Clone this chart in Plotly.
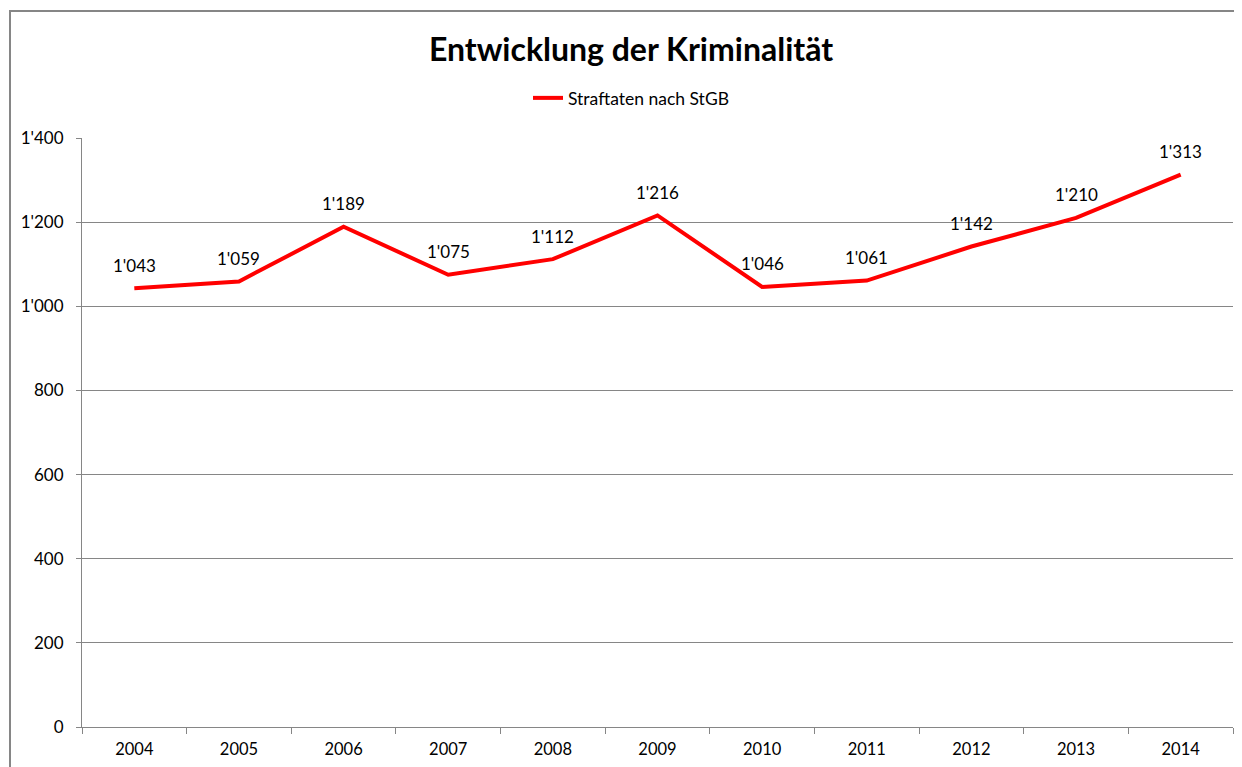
import plotly.graph_objects as go

years = ["2004", "2005", "2006", "2007", "2008", "2009", "2010", "2011", "2012", "2013", "2014"]
straftaten = [1043, 1059, 1189, 1075, 1112, 1216, 1046, 1061, 1142, 1210, 1313]
y_ticks = [0, 200, 400, 600, 800, 1000, 1200, 1400]

def fmt(v):
    return f"{v:,}".replace(",", "'")

FONT = "Lato"
GRID = "#868686"
OFF = 8  # browser default body margin

fig = go.Figure()
fig.add_trace(go.Scatter(
    x=years, y=straftaten, mode="lines", name="Straftaten nach StGB",
    line=dict(color="#FF0000", width=4),
))

for i, v in enumerate(straftaten):
    fig.add_annotation(x=i, y=v, xref="x", yref="y", text=fmt(v), showarrow=False, yshift=23,
                       font=dict(family=FONT, size=17, color="#000000"))

fig.update_layout(
    width=1242, height=767,
    margin=dict(l=82 - OFF, r=9 + OFF, t=138 - OFF, b=40 + OFF, autoexpand=False),
    paper_bgcolor="white", plot_bgcolor="white",
    separators=".'",
    title=dict(text="<b>Entwicklung der Kriminalität</b>", x=(631 - OFF) / 1242, xanchor="center",
               y=1 - (50 - OFF) / 767, yanchor="middle",
               font=dict(family=FONT, size=32, color="#000000")),
    showlegend=True,
    legend=dict(orientation="h", x=(631 - 82) / 1151, xanchor="center",
                y=(727 - 98) / 589, yanchor="middle",
                font=dict(family=FONT, size=17.5, color="#000000"),
                bgcolor="rgba(0,0,0,0)"),
    font=dict(family=FONT, size=16, color="#000000"),
)

fig.update_xaxes(
    type="category", range=[-0.5, 10.5], tickson="boundaries", ticks="outside", ticklen=6,
    tickcolor=GRID, showline=True, linecolor=GRID, linewidth=1, tickangle=0,
    ticklabelstandoff=7,
    showgrid=False, automargin=False, tickfont=dict(family=FONT, size=16.5, color="#000000"),
)
fig.update_yaxes(
    range=[0, 1400], tickvals=y_ticks, tickformat=",", ticks="outside", ticklen=5,
    tickcolor=GRID, showline=True, linecolor=GRID, linewidth=1, ticklabelstandoff=9,
    showgrid=True, gridcolor=GRID, gridwidth=1, zeroline=False, automargin=False,
    tickfont=dict(family=FONT, size=17, color="#000000"),
)

# outer chart border
fig.add_shape(type="rect", xref="paper", yref="paper",
              x0=(10 - 82) / 1151, x1=(1260 - 82) / 1151,
              y0=(727 - 790) / 589, y1=(727 - 11) / 589,
              line=dict(color=GRID, width=2), layer="below")

fig.write_html("out.html")
